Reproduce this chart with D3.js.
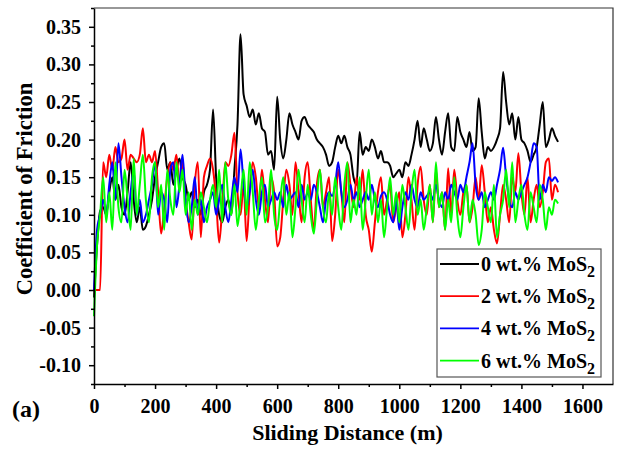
<!DOCTYPE html>
<html>
<head>
<meta charset="utf-8">
<script src="https://cdn.jsdelivr.net/npm/d3@7"></script>
<style>
  body { margin: 0; background: #fff; }
  svg { display: block; }
  text { font-family: "Liberation Serif", "Times New Roman", serif; font-weight: bold; fill: #000; }
</style>
</head>
<body>
<div id="plot"></div>
<script>
// sliding distance sampled every 10 m, 0 .. 1520
const distance = d3.range(0, 1521, 10);

const mos0 = [
  -0.01, 0.06, 0.105, 0.11, 0.10, 0.13, 0.15, 0.12, 0.14, 0.11,
  0.10, 0.13, 0.17, 0.12, 0.09, 0.11, 0.08, 0.085, 0.10, 0.12,
  0.15, 0.17, 0.19, 0.195, 0.16, 0.17, 0.14, 0.16, 0.175, 0.15,
  0.14, 0.12, 0.13, 0.11, 0.12, 0.10, 0.13, 0.14, 0.16, 0.24,
  0.15, 0.10, 0.09, 0.11, 0.12, 0.10, 0.16, 0.22, 0.34, 0.26,
  0.245, 0.23, 0.24, 0.22, 0.235, 0.215, 0.21, 0.18, 0.185, 0.16,
  0.257, 0.20, 0.175, 0.20, 0.235, 0.22, 0.21, 0.20, 0.225, 0.23,
  0.22, 0.215, 0.21, 0.20, 0.195, 0.19, 0.18, 0.165, 0.17, 0.19,
  0.205, 0.195, 0.205, 0.19, 0.18, 0.15, 0.14, 0.21, 0.18, 0.19,
  0.185, 0.20, 0.19, 0.175, 0.185, 0.17, 0.17, 0.165, 0.15, 0.155,
  0.16, 0.15, 0.17, 0.165, 0.18, 0.20, 0.225, 0.19, 0.215, 0.20,
  0.185, 0.195, 0.23, 0.20, 0.18, 0.21, 0.235, 0.19, 0.185, 0.23,
  0.21, 0.20, 0.19, 0.21, 0.185, 0.19, 0.255, 0.21, 0.175, 0.19,
  0.185, 0.19, 0.20, 0.215, 0.29, 0.25, 0.22, 0.235, 0.20, 0.23,
  0.20, 0.195, 0.185, 0.17, 0.18, 0.19, 0.22, 0.25, 0.19, 0.20,
  0.215, 0.205, 0.197
];

const mos2 = [
  0.0, 0.0, 0.0, 0.17, 0.15, 0.18, 0.16, 0.19, 0.17, 0.175,
  0.20, 0.16, 0.18, 0.175, 0.17, 0.18, 0.215, 0.17, 0.18, 0.17,
  0.185, 0.13, 0.075, 0.11, 0.15, 0.17, 0.16, 0.18, 0.14, 0.17,
  0.12, 0.09, 0.067, 0.14, 0.17, 0.07, 0.15, 0.165, 0.175, 0.16,
  0.12, 0.063, 0.11, 0.17, 0.165, 0.18, 0.209, 0.13, 0.10, 0.14,
  0.065, 0.13, 0.17, 0.15, 0.11, 0.16, 0.12, 0.09, 0.15, 0.13,
  0.058, 0.07, 0.12, 0.16, 0.14, 0.10, 0.17, 0.13, 0.09, 0.15,
  0.17, 0.12, 0.08, 0.14, 0.16, 0.11, 0.13, 0.15, 0.065, 0.10,
  0.16, 0.13, 0.09, 0.17, 0.14, 0.11, 0.15, 0.12, 0.16, 0.10,
  0.08, 0.051, 0.09, 0.13, 0.15, 0.10, 0.12, 0.14, 0.09, 0.11,
  0.13, 0.07, 0.10, 0.15, 0.12, 0.08, 0.14, 0.164, 0.12, 0.10,
  0.14, 0.09, 0.16, 0.11, 0.13, 0.08, 0.162, 0.10, 0.16, 0.12,
  0.10, 0.13, 0.14, 0.09, 0.11, 0.15, 0.12, 0.166, 0.13, 0.09,
  0.11, 0.08, 0.062, 0.10, 0.14, 0.12, 0.09, 0.15, 0.13, 0.182,
  0.13, 0.10, 0.15, 0.09, 0.12, 0.14, 0.11, 0.13, 0.17, 0.175,
  0.12, 0.14, 0.13
];

const mos4 = [
  0.0, 0.08, 0.10, 0.12, 0.10, 0.14, 0.17, 0.12, 0.195, 0.15,
  0.11, 0.09, 0.13, 0.16, 0.10, 0.12, 0.09, 0.10, 0.12, 0.14,
  0.17, 0.10, 0.13, 0.12, 0.09, 0.16, 0.17, 0.11, 0.14, 0.18,
  0.12, 0.09, 0.11, 0.15, 0.10, 0.12, 0.09, 0.11, 0.12, 0.13,
  0.10, 0.12, 0.14, 0.11, 0.09, 0.12, 0.15, 0.13, 0.187, 0.14,
  0.11, 0.13, 0.16, 0.12, 0.10, 0.13, 0.14, 0.11, 0.12, 0.13,
  0.12, 0.13, 0.11, 0.14, 0.12, 0.125, 0.13, 0.11, 0.14, 0.12,
  0.13, 0.12, 0.14, 0.13, 0.11, 0.09, 0.12, 0.13, 0.125, 0.14,
  0.17, 0.13, 0.11, 0.12, 0.14, 0.12, 0.13, 0.11, 0.12, 0.13,
  0.12, 0.14, 0.12, 0.11, 0.125, 0.13, 0.12, 0.10, 0.09, 0.12,
  0.08, 0.11, 0.13, 0.12, 0.14, 0.12, 0.11, 0.13, 0.12, 0.125,
  0.13, 0.12, 0.14, 0.12, 0.11, 0.13, 0.12, 0.14, 0.13, 0.12,
  0.14, 0.13, 0.15, 0.17, 0.195, 0.14, 0.12, 0.13, 0.11, 0.12,
  0.13, 0.12, 0.14, 0.16, 0.189, 0.15, 0.12, 0.11, 0.13, 0.12,
  0.13, 0.14, 0.15, 0.17, 0.195, 0.19, 0.12, 0.14, 0.13, 0.15,
  0.145, 0.15, 0.143
];

const mos6 = [
  -0.035, 0.06, 0.10, 0.15, 0.09, 0.13, 0.08, 0.17, 0.11, 0.09,
  0.16, 0.12, 0.08, 0.175, 0.10, 0.14, 0.18, 0.12, 0.09, 0.15,
  0.17, 0.11, 0.14, 0.08, 0.16, 0.12, 0.10, 0.17, 0.13, 0.16,
  0.10, 0.13, 0.08, 0.12, 0.10, 0.13, 0.11, 0.09, 0.12, 0.14,
  0.11, 0.16, 0.09, 0.17, 0.12, 0.10, 0.14, 0.085, 0.12, 0.16,
  0.10, 0.17, 0.13, 0.08, 0.12, 0.15, 0.09, 0.11, 0.16, 0.10,
  0.08, 0.12, 0.15, 0.10, 0.13, 0.07, 0.11, 0.16, 0.12, 0.09,
  0.14, 0.10, 0.075, 0.12, 0.16, 0.11, 0.09, 0.13, 0.10, 0.15,
  0.11, 0.08, 0.14, 0.17, 0.09, 0.12, 0.10, 0.15, 0.08, 0.12,
  0.16, 0.10, 0.13, 0.09, 0.12, 0.07, 0.11, 0.15, 0.10, 0.13,
  0.09, 0.14, 0.11, 0.08, 0.13, 0.16, 0.10, 0.12, 0.08, 0.11,
  0.14, 0.09, 0.17, 0.11, 0.13, 0.08, 0.12, 0.09, 0.15, 0.10,
  0.07, 0.11, 0.14, 0.09, 0.12, 0.10, 0.06, 0.08, 0.13, 0.11,
  0.09, 0.14, 0.07, 0.10, 0.12, 0.16, 0.11, 0.17, 0.09, 0.12,
  0.14, 0.10, 0.08, 0.13, 0.11, 0.09, 0.14, 0.12, 0.08, 0.11,
  0.10, 0.12, 0.115
];

const seriesLabels = ["0 wt.% MoS", "2 wt.% MoS", "4 wt.% MoS", "6 wt.% MoS"];
const seriesColors = ["#000000", "#ff0000", "#0000ff", "#00ff00"];
const xTicks = [0, 200, 400, 600, 800, 1000, 1200, 1400, 1600];
const yTicks = [-0.10, -0.05, 0.00, 0.05, 0.10, 0.15, 0.20, 0.25, 0.30, 0.35];

function plotData() {
    const width = 618, height = 451;
    const margin = { top: 8, right: 5, bottom: 67, left: 94 };
    const innerWidth = width - margin.left - margin.right;
    const innerHeight = height - margin.top - margin.bottom;

    const svg = d3.select("#plot")
        .append("svg")
        .attr("width", width)
        .attr("height", height)
        .append("g")
        .attr("transform", `translate(${margin.left},${margin.top})`);

    const x = d3.scaleLinear().domain([0, 1700]).range([0, innerWidth]);
    const y = d3.scaleLinear().domain([-0.125, 0.375]).range([innerHeight, 0]);

    // frame (top + right)
    svg.append("path")
        .attr("d", `M0,0H${innerWidth}V${innerHeight}`)
        .attr("fill", "none")
        .attr("stroke", "#333")
        .attr("stroke-width", 1.2);

    // the four friction curves
    const allSeries = [mos0, mos2, mos4, mos6];
    const line = d3.line()
        .x((d, i) => x(distance[i]))
        .y(d => y(d))
        .curve(d3.curveMonotoneX);

    allSeries.forEach((vals, k) => {
        svg.append("path")
            .datum(vals)
            .attr("fill", "none")
            .attr("stroke", seriesColors[k])
            .attr("stroke-width", 2)
            .attr("stroke-linejoin", "round")
            .attr("d", line);
    });

    // minor ticks
    svg.append("g")
        .attr("transform", `translate(0,${innerHeight})`)
        .call(d3.axisBottom(x).tickValues(d3.range(100, 1700, 200)).tickSize(3).tickFormat(""))
        .call(g => g.select(".domain").remove());
    svg.append("g")
        .call(d3.axisLeft(y).tickValues(d3.range(-0.125, 0.376, 0.05)).tickSize(3).tickFormat(""))
        .call(g => g.select(".domain").remove());

    // X axis
    const xAxis = svg.append("g")
        .attr("transform", `translate(0,${innerHeight})`)
        .call(d3.axisBottom(x).tickValues(xTicks).tickSize(5).tickSizeOuter(0).tickPadding(10)
            .tickFormat(d3.format("d")));
    xAxis.selectAll("text")
        .style("font-size", "20px")
        .style("font-family", "'Liberation Serif', serif")
        .style("font-weight", "bold");

    // Y axis
    const yAxis = svg.append("g")
        .call(d3.axisLeft(y).tickValues(yTicks).tickSize(5).tickSizeOuter(0).tickPadding(8));
    yAxis.selectAll("text")
        .style("font-size", "20px")
        .style("font-family", "'Liberation Serif', serif")
        .style("font-weight", "bold")
        .text(d => d3.format(".2f")(d).replace("−", "-"));

    svg.selectAll(".domain, .tick line")
        .attr("stroke", "#000")
        .attr("stroke-width", 1.5);

    // axis titles
    svg.append("text")
        .attr("x", innerWidth / 2 - 6)
        .attr("y", innerHeight + 56)
        .attr("text-anchor", "middle")
        .style("font-size", "22px")
        .text("Sliding Distance (m)");

    svg.append("text")
        .attr("transform", `translate(${-62},${innerHeight / 2 - 7}) rotate(-90)`)
        .attr("text-anchor", "middle")
        .style("font-size", "22.5px")
        .text("Coefficient of Friction");

    svg.append("text")
        .attr("x", -82)
        .attr("y", innerHeight + 33)
        .style("font-size", "24px")
        .text("(a)");

    // legend
    const legend = svg.append("g")
        .attr("transform", "translate(343,241)");
    legend.append("rect")
        .attr("width", 164)
        .attr("height", 128)
        .attr("fill", "#fff")
        .attr("stroke", "#555")
        .attr("stroke-width", 1.2);

    seriesLabels.forEach((lab, k) => {
        const row = legend.append("g").attr("transform", `translate(0,${15 + k * 32.2})`);
        row.append("line")
            .attr("x1", 3).attr("x2", 42)
            .attr("stroke", seriesColors[k])
            .attr("stroke-width", 1.8);
        const t = row.append("text")
            .attr("x", 44)
            .attr("y", 7)
            .style("font-size", "20px");
        t.append("tspan").text(lab);
        t.append("tspan")
            .attr("dy", 6)
            .style("font-size", "16px")
            .text("2");
    });
}

plotData();
</script>
</body>
</html>
